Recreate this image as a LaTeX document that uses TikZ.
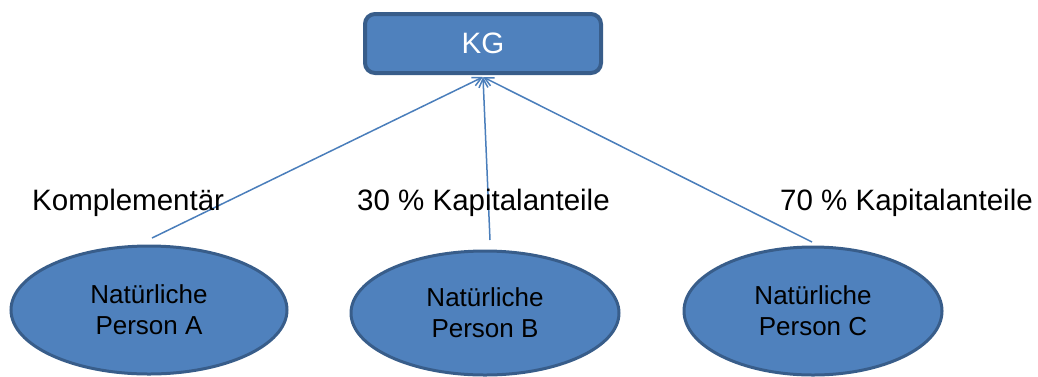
\documentclass[tikz,border=0pt]{standalone}
\usepackage{fontspec}
\setmainfont{Liberation Sans}
\usetikzlibrary{arrows.meta,shapes.geometric}
\definecolor{boxfill}{HTML}{4F81BD}
\definecolor{boxline}{HTML}{385D8A}
\definecolor{conn}{HTML}{4A7EBB}
\begin{document}
\begin{tikzpicture}[x=1pt,y=-1pt,
  kgbox/.style={draw=boxline,line width=4pt,fill=boxfill,rounded corners=10pt,minimum width=236pt,minimum height=59pt,inner sep=0pt,text=white,font=\fontsize{29.5}{34}\selectfont},
  person/.style={ellipse,draw=boxline,line width=3pt,fill=boxfill,minimum width=276pt,minimum height=128pt,inner sep=0pt,align=center,font=\fontsize{26}{31}\selectfont},
  lbl/.style={font=\fontsize{29.5}{34}\selectfont,inner sep=0pt},
  conn/.style={draw=conn,line width=1.5pt,-{Straight Barb[length=9pt,width=9pt]}}]
\useasboundingbox (0,0) rectangle (1038,376);
\node[kgbox] (kg) at (483,43.5) {KG};
\node[person] (pa) at (149,310) {Natürliche\\Person A};
\node[person,minimum width=268pt,minimum height=124pt] (pb) at (485,313) {Natürliche\\Person B};
\node[person,minimum width=258pt,minimum height=128pt] (pc) at (813,311) {Natürliche\\Person C};
\coordinate (tip) at (483,77);
\coordinate (sa) at (152,238);
\coordinate (sb) at (490,240);
\coordinate (sc) at (812,242);
\draw[conn] (sa) -- (tip);
\draw[conn] (sb) -- (tip);
\draw[conn] (sc) -- (tip);
\node[lbl,anchor=base west] (la) at (32,210) {Komplementär};
\node[lbl,anchor=base west] (lb) at (357,210) {30 \% Kapitalanteile};
\node[lbl,anchor=base west] (lc) at (780,210) {70 \% Kapitalanteile};
\end{tikzpicture}
\end{document}
